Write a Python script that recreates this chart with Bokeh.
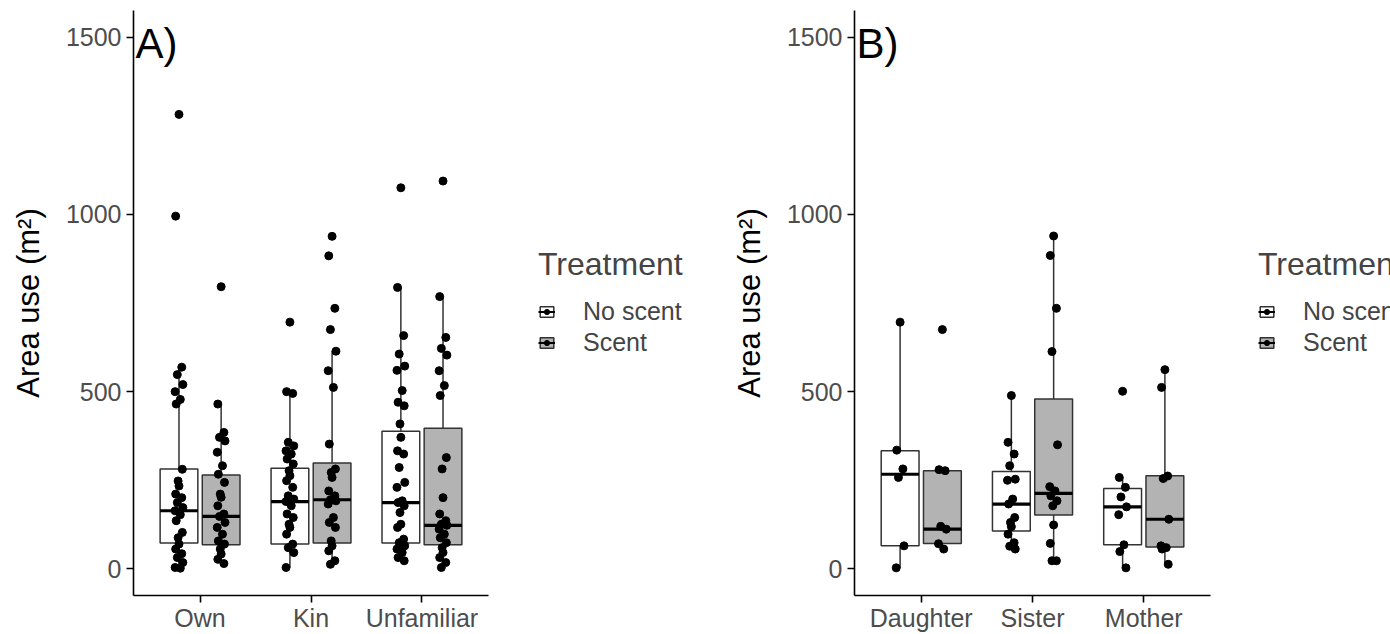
import numpy as np
from bokeh.plotting import figure
from bokeh.layouts import row
from bokeh.models import Range1d, FixedTicker, Legend, LegendItem, Label, ColumnDataSource
from bokeh.embed import file_html
from bokeh.resources import INLINE

FONT = "Liberation Sans"

# ---------------- data ----------------
cats_a = ["Own", "Kin", "Unfamiliar"]
cats_b = ["Daughter", "Sister", "Mother"]
treatments = ["No scent", "Scent"]
y_ticks = [0, 500, 1000, 1500]

# Panel A raw points (m^2)
own_noscent = [1282, 995, 569, 548, 520, 500, 478, 465, 281, 248, 234, 211, 201, 187,
               173, 164, 153, 136, 103, 88, 70, 56, 43, 32, 18, 4, 2]
own_scent = [796, 465, 385, 371, 361, 329, 291, 267, 244, 211, 202, 178, 155, 148, 131,
             117, 98, 79, 70, 56, 42, 27, 15]
kin_noscent = [696, 500, 495, 357, 347, 333, 324, 310, 296, 277, 263, 249, 230, 206, 197,
               190, 178, 155, 145, 126, 117, 98, 70, 60, 46, 4]
kin_scent = [938, 883, 735, 675, 614, 559, 512, 352, 282, 272, 258, 220, 206, 195, 192,
             183, 145, 131, 117, 79, 65, 51, 23, 13]
unf_noscent = [1075, 794, 658, 606, 572, 560, 503, 470, 460, 409, 371, 333, 324, 286, 244,
               230, 192, 187, 178, 159, 126, 117, 84, 74, 65, 56, 46, 32, 23]
unf_scent = [1094, 768, 653, 622, 603, 559, 517, 489, 314, 282, 201, 155, 136, 126, 123,
             112, 98, 88, 74, 60, 46, 32, 18, 4]

# Panel B raw points (m^2)
dau_noscent = [696, 335, 282, 258, 65, 3]
dau_scent = [675, 280, 277, 120, 112, 71, 56]
sis_noscent = [489, 357, 324, 291, 253, 250, 197, 183, 145, 131, 119, 98, 74, 64, 56]
sis_scent = [939, 884, 735, 613, 350, 232, 220, 206, 192, 178, 124, 72, 23, 23]
mot_noscent = [501, 258, 230, 203, 175, 153, 68, 49, 3]
mot_scent = [562, 512, 262, 255, 140, 65, 60, 56, 13]

# Box statistics (lower whisker, Q1, median, Q3, upper whisker)
a_noscent_lo = [2, 4, 23]
a_noscent_q1 = [73, 70, 73]
a_noscent_med = [164, 190, 187]
a_noscent_q3 = [282, 284, 388]
a_noscent_hi = [569, 500, 794]
a_scent_lo = [15, 13, 4]
a_scent_q1 = [68, 73, 68]
a_scent_med = [148, 195, 123]
a_scent_q3 = [265, 299, 397]
a_scent_hi = [465, 614, 768]

b_noscent_lo = [3, 56, 3]
b_noscent_q1 = [65, 107, 68]
b_noscent_med = [267, 183, 175]
b_noscent_q3 = [333, 275, 227]
b_noscent_hi = [696, 489, 258]
b_scent_lo = [56, 23, 13]
b_scent_q1 = [72, 152, 62]
b_scent_med = [112, 213, 140]
b_scent_q3 = [277, 479, 263]
b_scent_hi = [277, 939, 562]

# ---------------- styling ----------------
H = 634
DODGE = 0.19
HALF_W = 0.17
JITTER = [0.0, -0.03, 0.025, -0.015, 0.035, -0.035, 0.012, -0.025, 0.03, -0.008]
FILLS = ["white", "#B3B3B3"]
EDGE = "#333333"


def make_panel(cats, pts_groups, stats, tag, width, left_b, right_b):
    p = figure(width=width, height=H, x_range=Range1d(0.4, 3.6), y_range=Range1d(-75, 1575),
               output_backend="svg", toolbar_location=None,
               min_border_left=left_b, min_border_right=right_b,
               min_border_top=10, min_border_bottom=39)
    p.grid.visible = False
    p.outline_line_color = None

    for k, name in enumerate(treatments):
        off = -DODGE if k == 0 else DODGE
        lo, q1, med, q3, hi = stats[k]
        xs = np.arange(1, len(cats) + 1) + off
        src = ColumnDataSource(dict(x=xs, left=xs - HALF_W, right=xs + HALF_W,
                                    lo=lo, q1=q1, med=med, q3=q3, hi=hi))
        p.segment(x0="x", y0="q3", x1="x", y1="hi", source=src, line_color=EDGE, line_width=1.5)
        p.segment(x0="x", y0="lo", x1="x", y1="q1", source=src, line_color=EDGE, line_width=1.5)
        p.quad(left="left", right="right", bottom="q1", top="q3", source=src,
               fill_color=FILLS[k], line_color=EDGE, line_width=1.5)
        p.segment(x0="left", y0="med", x1="right", y1="med", source=src,
                  line_color="black", line_width=3.2)
        px, py = [], []
        for i, vals in enumerate(pts_groups[k]):
            for j, v in enumerate(vals):
                px.append(i + 1 + off + JITTER[j % len(JITTER)])
                py.append(v)
        p.scatter(px, py, size=8, fill_color="black", line_color="black")

    p.xaxis.ticker = FixedTicker(ticks=[1, 2, 3])
    p.xaxis.major_label_overrides = {i + 1: c for i, c in enumerate(cats)}
    p.yaxis.ticker = FixedTicker(ticks=y_ticks)
    for ax in (p.xaxis[0], p.yaxis[0]):
        ax.axis_line_color = "black"
        ax.axis_line_width = 1.6
        ax.major_tick_line_color = "black"
        ax.major_tick_line_width = 1.6
        ax.major_tick_out = 7
        ax.major_tick_in = 0
        ax.minor_tick_out = 0
        ax.minor_tick_in = 0
        ax.major_label_text_font = FONT
        ax.major_label_text_font_size = "25px"
        ax.major_label_text_color = "#4D4D4D"
    p.xaxis.major_label_standoff = 1
    p.yaxis.major_label_standoff = 5
    p.yaxis.axis_label = "Area use (m²)"
    p.yaxis.axis_label_text_font = FONT
    p.yaxis.axis_label_text_font_size = "31px"
    p.yaxis.axis_label_text_font_style = "normal"
    p.yaxis.axis_label_text_color = "black"
    p.yaxis.axis_label_standoff = 17

    p.add_layout(Label(x=0.4, y=1575, text=tag, text_font=FONT, text_font_size="42px",
                       text_align="left", text_baseline="top", x_offset=2, y_offset=-9,
                       text_color="black"))
    return p


def make_legend(width, x_pos):
    lf = figure(width=width, height=H, x_range=Range1d(0, 1), y_range=Range1d(0, 1),
                output_backend="svg", toolbar_location=None, min_border=0,
                x_axis_location=None, y_axis_location=None)
    lf.grid.visible = False
    lf.outline_line_color = None
    items = []
    for k, name in enumerate(treatments):
        # key glyphs (their data lie outside the visible range)
        box = lf.quad(left=[5], right=[6], bottom=[5], top=[6], fill_color=FILLS[k],
                      line_color=EDGE, line_width=1.5)
        mr = lf.segment(x0=[5], y0=[5], x1=[6], y1=[5], line_color="black", line_width=2)
        pr = lf.scatter([5], [5], size=8, fill_color="black", line_color="black")
        items.append(LegendItem(label=name, renderers=[box, mr, pr]))
    leg = Legend(items=items, location=(x_pos, 238), title="Treatment",
                 title_text_font=FONT, title_text_font_size="32px", title_text_font_style="normal",
                 title_standoff=14, label_text_font=FONT, label_text_font_size="25px",
                 glyph_width=17, glyph_height=13, label_standoff=28, spacing=2,
                 padding=0, margin=0, border_line_color=None, background_fill_alpha=0)
    lf.add_layout(leg)
    return lf


pA = make_panel(cats_a,
                [[own_noscent, kin_noscent, unf_noscent], [own_scent, kin_scent, unf_scent]],
                [(a_noscent_lo, a_noscent_q1, a_noscent_med, a_noscent_q3, a_noscent_hi),
                 (a_scent_lo, a_scent_q1, a_scent_med, a_scent_q3, a_scent_hi)],
                "A)", 500, 133, 12)
legA = make_legend(198, 38)
pB = make_panel(cats_b,
                [[dau_noscent, sis_noscent, mot_noscent], [dau_scent, sis_scent, mot_scent]],
                [(b_noscent_lo, b_noscent_q1, b_noscent_med, b_noscent_q3, b_noscent_hi),
                 (b_scent_lo, b_scent_q1, b_scent_med, b_scent_q3, b_scent_hi)],
                "B)", 524, 156, 12)
legB = make_legend(168, 36)

layout = row(pA, legA, pB, legB)
open("out.html", "w").write(file_html(layout, INLINE))
